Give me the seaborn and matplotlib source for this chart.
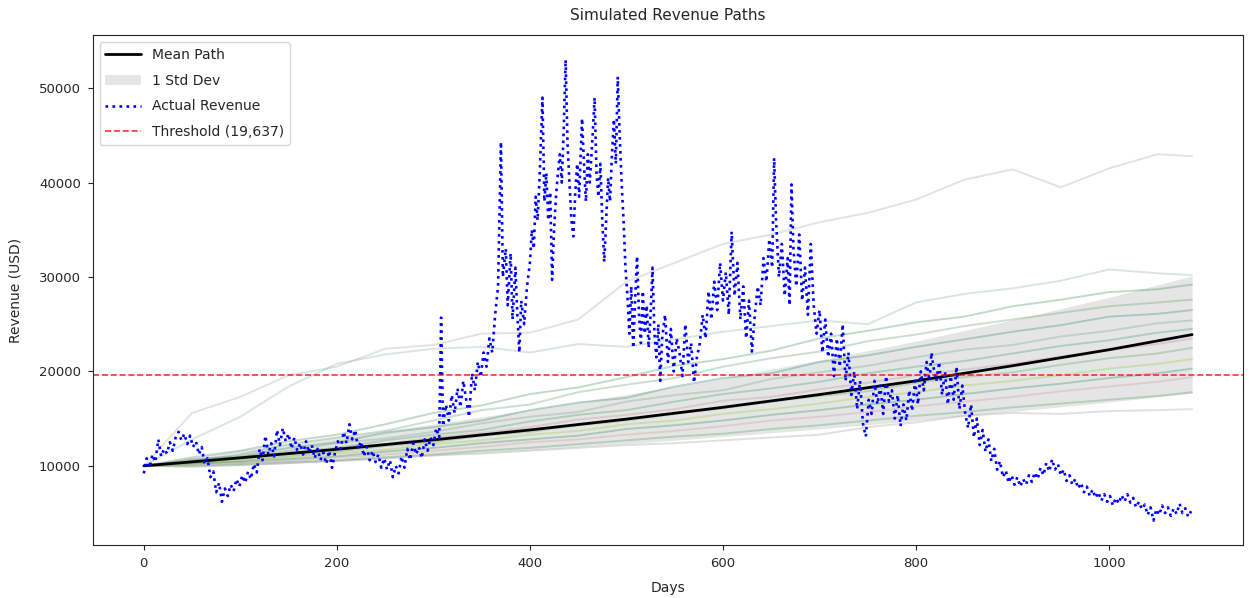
import numpy as np
import pandas as pd
import matplotlib
matplotlib.use("Agg")
import matplotlib.pyplot as plt
import seaborn as sns

# ---- observed daily revenue (sampled days) ----
actual_days = [
    0, 3, 6, 9, 12, 15, 18, 21, 24, 27, 30, 33, 36, 39, 42, 45, 48, 51, 54, 57,
    60, 63, 66, 69, 72, 75, 78, 81, 84, 87, 90, 93, 96, 99, 102, 105, 108, 111, 114, 117,
    120, 123, 126, 129, 132, 135, 138, 141, 144, 147, 150, 153, 156, 159, 162, 165, 168, 171, 174, 177,
    180, 183, 186, 189, 192, 195, 198, 201, 204, 207, 210, 213, 216, 219, 222, 225, 228, 231, 234, 237,
    240, 243, 246, 249, 252, 255, 258, 261, 264, 267, 270, 273, 276, 279, 282, 285, 288, 291, 294, 297,
    300, 303, 306, 308, 310, 313, 316, 319, 322, 325, 328, 331, 334, 337, 340, 343, 346, 349, 352, 355,
    358, 361, 364, 367, 370, 372, 375, 377, 380, 382, 385, 387, 389, 391, 394, 397, 400, 402, 404, 406,
    408, 410, 413, 415, 417, 419, 421, 423, 425, 427, 429, 431, 433, 435, 437, 439, 441, 443, 445, 447,
    449, 451, 454, 456, 458, 460, 462, 465, 467, 469, 471, 473, 475, 477, 479, 481, 483, 485, 487, 489,
    491, 493, 495, 497, 499, 501, 503, 505, 507, 509, 511, 513, 515, 517, 519, 521, 523, 525, 527, 529,
    531, 533, 535, 537, 540, 543, 546, 549, 552, 555, 558, 561, 564, 567, 570, 573, 576, 579, 582, 585,
    588, 591, 594, 597, 600, 603, 606, 609, 612, 615, 618, 621, 624, 627, 630, 633, 636, 639, 642, 645,
    648, 651, 653, 655, 658, 661, 664, 667, 669, 671, 673, 676, 679, 682, 685, 688, 691, 694, 697, 700,
    703, 706, 709, 712, 715, 718, 721, 724, 727, 730, 733, 736, 739, 742, 745, 748, 751, 754, 757, 760,
    763, 766, 769, 772, 775, 778, 781, 784, 787, 790, 793, 796, 799, 802, 805, 808, 811, 814, 816, 818,
    821, 824, 827, 830, 833, 836, 839, 842, 845, 848, 851, 854, 857, 860, 863, 866, 869, 872, 875, 878,
    881, 884, 887, 890, 893, 896, 899, 902, 905, 908, 911, 914, 917, 920, 923, 926, 929, 932, 935, 938,
    941, 944, 947, 950, 953, 956, 959, 962, 965, 968, 971, 974, 977, 980, 983, 986, 989, 992, 995, 998,
    1001, 1004, 1007, 1010, 1013, 1016, 1019, 1022, 1025, 1028, 1031, 1034, 1037, 1040, 1043, 1046, 1049, 1052, 1055, 1058,
    1061, 1064, 1067, 1070, 1073, 1076, 1079, 1082, 1085,
]
actual_revenue = [
    9200, 10800, 9800, 11200, 10400, 12800, 11000, 11800, 11300, 12500, 11600, 13000, 13600, 12700, 13400, 12300, 13200, 12000, 12600, 11200,
    12000, 10200, 10800, 8800, 9400, 7200, 8200, 6200, 7600, 6800, 8000, 7300, 8600, 7800, 9000, 8200, 9400, 8600, 10200, 9300,
    11800, 10600, 13200, 11200, 12400, 11000, 13800, 12200, 14000, 12600, 13400, 11800, 13000, 11600, 12400, 11200, 12600, 11400, 12200, 10800,
    11800, 10600, 11400, 10200, 11600, 9800, 11400, 12600, 11800, 13600, 12400, 14400, 12800, 13800, 11800, 12600, 11000, 12000, 10600, 11600,
    10400, 11200, 9800, 10800, 9600, 10600, 8800, 10000, 9200, 11000, 9800, 11800, 10600, 12400, 11200, 12000, 10800, 12800, 11600, 13000,
    12200, 14000, 13000, 25700, 14200, 16500, 14800, 17500, 15600, 18200, 16200, 19000, 17000, 15200, 19800, 18000, 21000, 19400, 22000, 20500,
    23500, 22000, 26000, 29000, 44300, 30000, 33000, 27000, 32500, 25500, 31000, 26000, 22000, 27500, 25000, 29000, 31500, 35000, 33000, 38500,
    36000, 40500, 49000, 38000, 41000, 36000, 39000, 29700, 35000, 38500, 41000, 43000, 40000, 45500, 53000, 44000, 40000, 36000, 34300, 39000,
    42000, 38500, 46800, 42000, 38000, 43000, 40000, 45000, 49000, 41000, 38500, 42000, 36000, 31600, 36000, 40500, 38000, 43000, 46700, 42000,
    51200, 45000, 40000, 36000, 31000, 28000, 24000, 29000, 22500, 27500, 32200, 26000, 23000, 28500, 24000, 27000, 22500, 26000, 31000, 24000,
    21500, 25000, 19000, 23500, 26000, 21000, 24500, 20000, 23500, 22000, 19500, 25000, 21000, 23000, 18800, 21500, 23000, 26000, 23500, 28500,
    25500, 29500, 26500, 31500, 27500, 30500, 26000, 34800, 28000, 31500, 25500, 29000, 23500, 27500, 22100, 26000, 29000, 27000, 32000, 29500,
    34000, 31000, 42600, 36000, 30000, 33500, 28000, 32000, 27000, 39800, 33000, 29000, 34500, 27500, 31000, 26000, 33500, 27000, 24000, 26500,
    22000, 25500, 21500, 24000, 19500, 23500, 20500, 25000, 19000, 22000, 17500, 20000, 16000, 19000, 14500, 13100, 17000, 15500, 19000, 16500,
    18500, 15500, 19500, 16800, 18000, 15000, 17500, 14200, 16500, 14800, 18000, 15800, 19000, 16500, 20000, 18000, 21000, 19000, 22000, 20500,
    19000, 21000, 17500, 20000, 16500, 19500, 17000, 20500, 16000, 18500, 15500, 14000, 16500, 13000, 15000, 12200, 13800, 11500, 12800, 10500,
    11800, 9600, 10500, 8800, 9500, 8200, 9000, 8000, 8800, 7800, 8600, 8000, 9000, 8300, 9300, 8600, 9800, 9000, 10300, 9400,
    10700, 9600, 10200, 9000, 9600, 8400, 9000, 8000, 8600, 7600, 8200, 7200, 7800, 6800, 7500, 6600, 7200, 6300, 7000, 6200,
    6800, 5800, 6600, 6000, 6900, 6200, 7000, 6100, 6600, 5600, 6200, 5400, 5900, 4800, 5600, 4200, 5400, 4800, 5800, 5000,
    5600, 4700, 5500, 4900, 6000, 5000, 5500, 4600, 5200,
]

# ---- simulated paths (sampled every 50 days) ----
path_days = [0, 50, 100, 150, 200, 250, 300, 350, 400, 450, 500, 550,
             600, 650, 700, 750, 800, 850, 900, 950, 1000, 1050, 1086]
sim_paths = {
    "p01": [10000, 15600, 17300, 19600, 20500, 22400, 22800, 24000, 24100, 25500, 29500, 31500,
            33500, 34500, 35800, 36800, 38200, 40300, 41400, 39500, 41500, 43000, 42800],
    "p02": [10000, 12800, 15200, 18400, 20800, 21800, 22400, 22600, 22000, 22900, 22600, 23400,
            24200, 24800, 25400, 25000, 27300, 28200, 28800, 29600, 30800, 30400, 30200],
    "p03": [10000, 10900, 11600, 12600, 13300, 14400, 15600, 16400, 17600, 18300, 19400, 20600,
            21300, 22200, 23500, 24300, 25200, 25800, 26900, 27600, 28400, 28700, 29200],
    "p04": [10000, 10500, 11200, 12300, 13000, 13700, 14800, 15900, 16500, 17800, 18600, 19300,
            20500, 21400, 22100, 23200, 23900, 24800, 25500, 26200, 26900, 27300, 27600],
    "p05": [10000, 10700, 11000, 11900, 12500, 13500, 14100, 14800, 15900, 16700, 17200, 18400,
            19300, 19800, 21000, 21700, 22600, 23400, 24200, 24900, 25800, 26100, 26500],
    "p06": [10000, 10400, 10900, 11600, 12400, 12900, 13600, 14500, 15200, 15700, 16800, 17500,
            18000, 19200, 19900, 20600, 21500, 22300, 22800, 23700, 24300, 25100, 25400],
    "p07": [10000, 10300, 10800, 11400, 11900, 12700, 13300, 13800, 14700, 15400, 15900, 16800,
            17600, 18200, 18900, 19800, 20500, 21100, 21900, 22700, 23300, 24100, 24500],
    "p08": [10000, 10600, 10700, 11200, 11800, 12300, 13000, 13500, 14100, 14900, 15400, 16000,
            16900, 17300, 18100, 18800, 19600, 20200, 20800, 21600, 22300, 22900, 23500],
    "p09": [10000, 10200, 10500, 11000, 11500, 12100, 12500, 13200, 13600, 14300, 14800, 15500,
            16100, 16800, 17400, 17900, 18800, 19400, 19900, 20700, 21400, 21900, 22500],
    "p10": [10000, 10100, 10600, 10800, 11300, 11700, 12300, 12700, 13300, 13700, 14400, 14800,
            15500, 16000, 16600, 17300, 17800, 18500, 19000, 19600, 20300, 20800, 21300],
    "p11": [10000, 10300, 10400, 10700, 11000, 11500, 11900, 12400, 12800, 13200, 13900, 14300,
            14800, 15400, 15900, 16500, 17000, 17600, 18200, 18700, 19300, 19800, 20300],
    "p12": [10000, 10000, 10300, 10500, 10900, 11200, 11600, 12000, 12500, 12800, 13300, 13700,
            14200, 14800, 15200, 15700, 16300, 16800, 17300, 17900, 18400, 18900, 19400],
    "p13": [10000, 9900, 10100, 10300, 10600, 10900, 11200, 11600, 11900, 12300, 12700, 13100,
            13400, 13900, 14300, 14800, 15300, 15700, 16200, 16600, 17000, 17400, 17800],
    "p14": [10000, 10100, 10200, 10400, 10500, 10800, 11100, 11300, 11600, 11900, 12200, 12400,
            12700, 13000, 13300, 14100, 14600, 15300, 15600, 15500, 15800, 15900, 16000],
}
path_colors = ["#a8a8a8", "#8fb0a0", "#3f8f5f", "#5f9e6f", "#2e8b57", "#6fa585",
               "#3c9d6b", "#c08f8f", "#5aa55a", "#9acd32", "#2e8b57", "#d09a9a",
               "#4f9e6a", "#a0a0a0"]

# ---- mean and spread of the simulations ----
stat_days = [0, 100, 200, 300, 400, 500, 600, 700, 800, 900, 1000, 1086]
mean_path = [10000, 10850, 11750, 12750, 13800, 14950, 16200, 17550, 19000, 20600, 22300, 23900]
std_path = [0, 840, 1290, 1680, 2150, 2610, 3100, 3640, 4210, 4850, 5540, 6210]

threshold = 19637

sns.set_style("ticks")
plt.rcParams["font.family"] = ["DejaVu Sans"]

fig, ax = plt.subplots(figsize=(12.52, 5.98), dpi=100)
fig.subplots_adjust(left=0.074, right=0.993, top=0.941, bottom=0.089)

sims = pd.DataFrame(
    [(name, d, v) for name, vals in sim_paths.items() for d, v in zip(path_days, vals)],
    columns=["path", "day", "revenue"],
)
sns.lineplot(data=sims, x="day", y="revenue", hue="path", units="path", estimator=None,
             palette=path_colors, alpha=0.32, linewidth=1.4, legend=False, ax=ax)

mean_arr = np.array(mean_path)
std_arr = np.array(std_path)
ax.fill_between(stat_days, mean_arr - std_arr, mean_arr + std_arr,
                color="gray", alpha=0.2, linewidth=0, label="1 Std Dev")
sns.lineplot(x=stat_days, y=mean_path, color="black", linewidth=2, label="Mean Path", ax=ax)

sns.lineplot(x=actual_days, y=actual_revenue, color="blue", linestyle=":", linewidth=1.9,
             label="Actual Revenue", ax=ax)

ax.axhline(threshold, color="red", linestyle="--", linewidth=1.2, alpha=0.8,
           label=f"Threshold ({threshold:,})")

ax.set_xlim(-53, 1139)
ax.set_ylim(1640, 55600)
ax.set_title("Simulated Revenue Paths", fontsize=11, pad=11)
ax.set_xlabel("Days", fontsize=10, labelpad=8)
ax.set_ylabel("Revenue (USD)", fontsize=10, labelpad=12)
ax.tick_params(labelsize=9.5, pad=5)

handles, labels = ax.get_legend_handles_labels()
order = [labels.index(l) for l in ["Mean Path", "1 Std Dev", "Actual Revenue", f"Threshold ({threshold:,})"]]
ax.legend([handles[i] for i in order], [labels[i] for i in order],
          loc="upper left", fontsize=10, frameon=True, labelspacing=0.85, handlelength=2.6)

fig.savefig("out.png", dpi=100)
